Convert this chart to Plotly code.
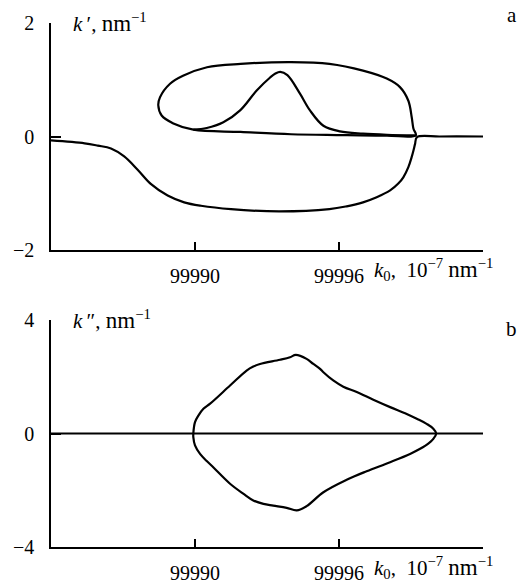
import plotly.graph_objects as go
from plotly.subplots import make_subplots

# Panel a: real part k' of the wavenumber versus k0
# closed branch, traced from the top edge leftwards and around
loop_k0 = [99994.0, 99991.9, 99990.5, 99989.5, 99988.96, 99988.54, 99988.47,
           99988.61, 99989.1, 99989.93, 99991.9, 99994.0, 99996.0, 99998.0,
           99999.2, 99999.1, 99999.03, 99998.89, 99998.54, 99997.99, 99997.0,
           99995.6, 99994.0]
loop_re = [1.31, 1.28, 1.22, 1.07, 0.93, 0.69, 0.55,
           0.37, 0.23, 0.12, 0.08, 0.04, 0.025, 0.015,
           0.02, 0.14, 0.34, 0.63, 0.87, 1.02, 1.16,
           1.28, 1.31]

bump_k0 = [99989.93, 99990.49, 99991.18, 99991.88, 99992.57, 99993.13, 99993.35,
           99993.55, 99993.85, 99994.38, 99994.79, 99995.35, 99996.04, 99997.0,
           99998.0, 99999.2]
bump_re = [0.12, 0.15, 0.25, 0.46, 0.81, 1.04, 1.11,
           1.14, 1.08, 0.75, 0.46, 0.19, 0.09, 0.05,
           0.03, 0.02]

low_k0 = [99984.0, 99985.4, 99985.95, 99986.5, 99987.05, 99987.6, 99988.17,
          99988.86, 99989.55, 99990.25, 99991.5, 99993.5, 99995.6, 99996.32,
          99997.0, 99997.57, 99998.13, 99998.47, 99998.68, 99998.89, 99999.03,
          99999.1, 99999.17, 99999.25, 100000.2, 100002.0]
low_re = [-0.07, -0.12, -0.16, -0.21, -0.35, -0.58, -0.84,
          -1.04, -1.16, -1.22, -1.28, -1.32, -1.28, -1.23,
          -1.16, -1.07, -0.95, -0.83, -0.72, -0.54, -0.36,
          -0.25, -0.13, -0.01, 0.0, 0.0]

# Panel b: imaginary part k''
flat_k0 = [99984.0, 100002.0]
flat_im = [0.0, 0.0]

# closed branch, traced clockwise from the upper-left flank
ring_k0 = [99991.46, 99992.15, 99992.43, 99992.71, 99993.54, 99993.96, 99994.2,
           99994.65, 99994.93, 99995.21, 99995.35, 99995.76, 99996.18, 99996.74,
           99997.43, 99998.13, 99998.82, 99999.24, 99999.65, 99999.93, 100000.05,
           99999.93, 99999.72, 99999.38, 99998.96, 99998.13, 99997.15, 99996.32,
           99995.35, 99994.65, 99994.24, 99993.82, 99993.26, 99992.85,
           99992.43, 99992.01, 99991.46, 99990.76, 99990.49, 99990.21, 99990.0,
           99989.93, 99989.93, 99990.0, 99990.14, 99990.35, 99990.63, 99991.46]
ring_im = [1.69, 2.22, 2.36, 2.45, 2.60, 2.69, 2.77,
           2.63, 2.45, 2.28, 2.16, 1.87, 1.65, 1.46,
           1.19, 0.93, 0.69, 0.52, 0.34, 0.17, 0.0,
           -0.19, -0.36, -0.54, -0.72, -1.01, -1.33, -1.63,
           -2.07, -2.56, -2.71, -2.62, -2.54, -2.48,
           -2.36, -2.12, -1.77, -1.19, -0.97, -0.72, -0.42,
           -0.13, 0.0, 0.40, 0.63, 0.87, 1.05, 1.69]

x_ticks = [99990, 99996, 100002]
x_tick_text = ["99990", "99996", ""]
a_ticks = [-2, 0, 2]
b_ticks = [-4, 0, 4]

FONT = "Liberation Serif, Times New Roman, serif"
FS = 20
LINE = dict(color="black", width=2.2)

fig = make_subplots(rows=2, cols=1, vertical_spacing=0.1336)

for xs, ys in [(loop_k0, loop_re), (bump_k0, bump_re), (low_k0, low_re)]:
    fig.add_trace(go.Scatter(x=xs, y=ys, mode="lines", line=dict(shape="spline", smoothing=1.0, **LINE),
                             showlegend=False, hoverinfo="skip"), row=1, col=1)
for xs, ys in [(flat_k0, flat_im), (ring_k0, ring_im)]:
    fig.add_trace(go.Scatter(x=xs, y=ys, mode="lines", line=dict(shape="spline", smoothing=1.0, **LINE),
                             showlegend=False, hoverinfo="skip"), row=2, col=1)

xaxis_style = dict(range=[99984, 100002], tickvals=x_ticks, ticktext=x_tick_text,
                   ticks="inside", ticklen=8, tickwidth=1.6, tickcolor="black",
                   showline=True, linecolor="black", linewidth=1.6, mirror=False,
                   showgrid=False, zeroline=False, ticklabelstandoff=7, automargin=False,
                   tickfont=dict(family=FONT, size=FS, color="black"))
yaxis_style = dict(ticks="inside", ticklen=10, tickwidth=1.6, tickcolor="black",
                   showline=True, linecolor="black", linewidth=1.6, mirror=False,
                   showgrid=False, zeroline=False, ticklabelstandoff=11, automargin=False,
                   tickfont=dict(family=FONT, size=FS, color="black"))

fig.update_xaxes(**xaxis_style)
fig.update_yaxes(**yaxis_style)
fig.update_yaxes(range=[-2, 2], tickvals=a_ticks, ticktext=["\u22122", "0", "2"], row=1, col=1)
fig.update_yaxes(range=[-4, 4], tickvals=b_ticks, ticktext=["\u22124", "0", "4"], row=2, col=1)

tf = dict(family=FONT, size=21, color="black")
NB = "\u00a0"
x_title = ("<i>k</i><sub>0</sub>," + NB + NB + "10<sup>\u22127</sup>" + NB
           + "<span style='font-size:23px'>nm</span><sup>\u22121</sup>")
k_re_title = "<i>k</i>\u2009\u2032," + NB + "<span style='font-size:23px'>nm</span><sup>\u22121</sup>"
k_im_title = "<i>k</i>\u2009\u2033," + NB + "<span style='font-size:23px'>nm</span><sup>\u22121</sup>"
annotations = [
    dict(text=k_re_title, xref="x domain", yref="y domain",
         x=0.047, y=1.0, yshift=1, xanchor="left", yanchor="middle", showarrow=False, font=tf),
    dict(text=k_im_title, xref="x2 domain", yref="y2 domain",
         x=0.047, y=1.0, yshift=1, xanchor="left", yanchor="middle", showarrow=False, font=tf),
    dict(text=x_title, xref="x domain", yref="y domain", x=0.743, y=0, yshift=-20,
         xanchor="left", yanchor="middle", showarrow=False, font=tf),
    dict(text=x_title, xref="x2 domain", yref="y2 domain", x=0.743, y=0, yshift=-20,
         xanchor="left", yanchor="middle", showarrow=False, font=tf),
    dict(text="a", xref="paper", yref="paper", x=1.067, y=1.015,
         xanchor="center", yanchor="middle", showarrow=False, font=tf),
    dict(text="b", xref="paper", yref="paper", x=1.067, y=0.416,
         xanchor="center", yanchor="middle", showarrow=False, font=tf),
]

fig.update_layout(width=522, height=583, margin=dict(l=51, r=39, t=23, b=36, autoexpand=False),
                  paper_bgcolor="white", plot_bgcolor="white",
                  annotations=annotations, font=tf)

fig.write_html("out.html")
